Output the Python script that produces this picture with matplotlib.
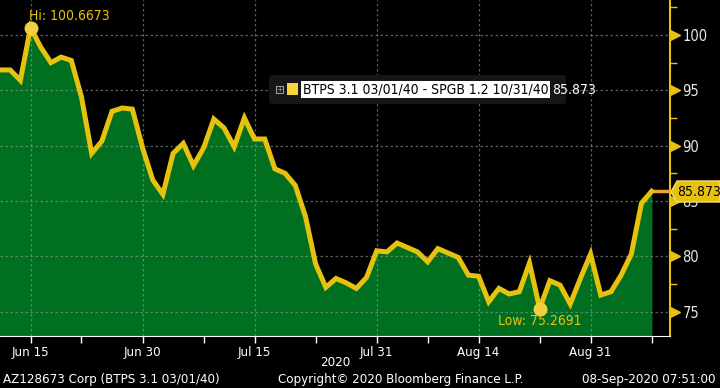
import matplotlib
matplotlib.use('agg')
from matplotlib import pyplot as plt
from matplotlib.patches import FancyBboxPatch, Rectangle, Polygon
import matplotlib.transforms as mtransforms
import pandas as pd

# spread series, one value per business day
dates = pd.bdate_range('2020-06-10', '2020-09-08')
values = [96.84, 96.84, 95.9, 100.6673, 98.9, 97.5, 98.0, 97.7, 94.4, 89.3,
          90.4, 93.1, 93.4, 93.3, 89.8, 86.9, 85.6, 89.3, 90.2, 88.2,
          89.8, 92.4, 91.6, 89.9, 92.5, 90.6, 90.6, 87.9, 87.5, 86.4,
          83.6, 79.3, 77.2, 78.0, 77.6, 77.1, 78.1, 80.5, 80.4, 81.2,
          80.8, 80.4, 79.5, 80.7, 80.3, 79.9, 78.3, 78.2, 75.9, 77.1,
          76.6, 76.8, 79.4, 75.2691, 77.8, 77.4, 75.7, 78.0, 80.2, 76.5,
          76.8, 78.3, 80.2, 84.8, 85.873]
label_dates = ['2020-06-15', '2020-06-30', '2020-07-15', '2020-07-31', '2020-08-14', '2020-08-31']
label_texts = ['Jun 15', 'Jun 30', 'Jul 15', 'Jul 31', 'Aug 14', 'Aug 31']
minor_dates = ['2020-06-22', '2020-07-08', '2020-07-23', '2020-08-07', '2020-08-24', '2020-09-08']
y_ticks = [75, 80, 85, 90, 95, 100]
y_minor = [77.5, 82.5, 87.5, 92.5, 97.5, 102.5]
series_name = 'BTPS 3.1 03/01/40 - SPGB 1.2 10/31/40'
last_value = 85.873

YELLOW = '#E6C20F'
GREEN = '#007020'
plt.rcParams['font.family'] = ['DejaVu Sans']
plt.rcParams['font.stretch'] = 'condensed'

fig = plt.figure(figsize=(7.2, 3.88), dpi=100, facecolor='black')
ax = fig.add_axes([0, 52 / 388, 670 / 720, 336 / 388], facecolor='black')

x = list(range(len(values)))
ax.fill_between(x, values, 0, color=GREEN, zorder=1)
ax.plot(x, values, color=YELLOW, lw=3.6, solid_joinstyle='miter', zorder=4)
ax.plot([x[-1], 65.8], [last_value, last_value], color='#F5A030', lw=2.5, zorder=3, clip_on=False)

ax.set_xlim(0, 65.8)
ax.set_ylim(72.8, 103.16)

major_idx = [dates.get_loc(pd.Timestamp(d)) for d in label_dates]
minor_idx = [dates.get_loc(pd.Timestamp(d)) for d in minor_dates]
ax.set_xticks(major_idx)
ax.set_xticklabels(label_texts)
ax.set_xticks(minor_idx, minor=True)
ax.yaxis.tick_right()
ax.set_yticks(y_ticks)
ax.set_yticks(y_minor, minor=True)

ax.grid(True, which='major', color='#9a9a9a', ls=(0, (2, 2)), lw=0.9, alpha=0.6)
for ln in ax.get_xgridlines() + ax.get_ygridlines():
    ln.set_zorder(2)

ax.tick_params(axis='x', which='both', colors='white', length=5, width=1, labelsize=9.5, pad=2)
ax.tick_params(axis='y', which='major', colors=YELLOW, length=0, labelsize=10.5, labelcolor='#e8e8e8', pad=9)
ax.tick_params(axis='y', which='minor', colors=YELLOW, length=5, width=1)
for s in ['top', 'left']:
    ax.spines[s].set_visible(False)
ax.spines['right'].set_color(YELLOW)
ax.spines['bottom'].set_color('white')
ax.spines['right'].set_linewidth(1.5)

# triangle markers on the right axis
trans = mtransforms.blended_transform_factory(ax.transAxes, ax.transData)
ax.plot([1.007] * len(y_ticks), y_ticks, ls='none', marker='>', ms=6.5, color=YELLOW,
        transform=trans, clip_on=False, zorder=5)

# hi / low annotations
hi_i = values.index(max(values))
lo_i = values.index(min(values))
ax.plot([hi_i], [values[hi_i]], 'o', ms=9, color='#F0D040', zorder=6)
ax.plot([lo_i], [values[lo_i]], 'o', ms=9, color='#F0D040', zorder=6)
ax.annotate(f'Hi: {max(values):.4f}', (hi_i, values[hi_i]), xytext=(-1, 3), textcoords='offset points',
            color=YELLOW, fontsize=10, ha='left', va='bottom')
ax.annotate(f'Low: {min(values):.4f}', (lo_i, values[lo_i]), xytext=(0, -4), textcoords='offset points',
            color=YELLOW, fontsize=10, ha='center', va='top')

# legend box
fig.patches.append(FancyBboxPatch((269 / 720, 284 / 388), 297 / 720, 29 / 388,
                                  boxstyle='round,pad=0,rounding_size=0.006', transform=fig.transFigure,
                                  facecolor='#161616', edgecolor='none'))
fig.patches.append(Rectangle((276 / 720, 295 / 388), 7 / 720, 7 / 388, transform=fig.transFigure,
                             facecolor='none', edgecolor='#9a9a9a', lw=0.8))
fig.text(279.5 / 720, 298.5 / 388, '+', color='#9a9a9a', fontsize=6, ha='center', va='center')
fig.patches.append(Rectangle((287 / 720, 293 / 388), 11 / 720, 12 / 388, transform=fig.transFigure,
                             facecolor='#F5D63A', edgecolor='none'))
fig.text(303 / 720, 298.5 / 388, series_name, color='black', fontsize=10, ha='left', va='center',
         bbox=dict(facecolor='white', edgecolor='none', pad=1.2))
fig.text(552 / 720, 298.5 / 388, f'{last_value:.3f}', color='white', fontsize=10, ha='left', va='center')

# last value tag on right axis
fig.patches.append(Polygon([(671 / 720, 196 / 388), (677 / 720, 207 / 388), (720 / 720, 207 / 388),
                            (720 / 720, 186 / 388), (677 / 720, 186 / 388)], closed=True,
                           transform=fig.transFigure, facecolor=YELLOW, edgecolor='#F5E070', lw=1))
fig.text(677 / 720, 196 / 388, f'{last_value:.3f}', color='black', fontsize=10, ha='left', va='center')

# footer
fig.text(335 / 720, 26 / 388, '2020', color='white', fontsize=9.5, ha='center', va='center')
fig.text(3 / 720, 9 / 388, 'AZ128673 Corp (BTPS 3.1 03/01/40)', color='white', fontsize=9.5, ha='left', va='center')
fig.text(401 / 720, 9 / 388, 'Copyright\u00a9 2020 Bloomberg Finance L.P.', color='white', fontsize=9.5,
         ha='center', va='center')
fig.text(716 / 720, 9 / 388, '08-Sep-2020 07:51:00', color='white', fontsize=9.5, ha='right', va='center')

plt.savefig('out.png', dpi=100, facecolor='black')
plt.close()
